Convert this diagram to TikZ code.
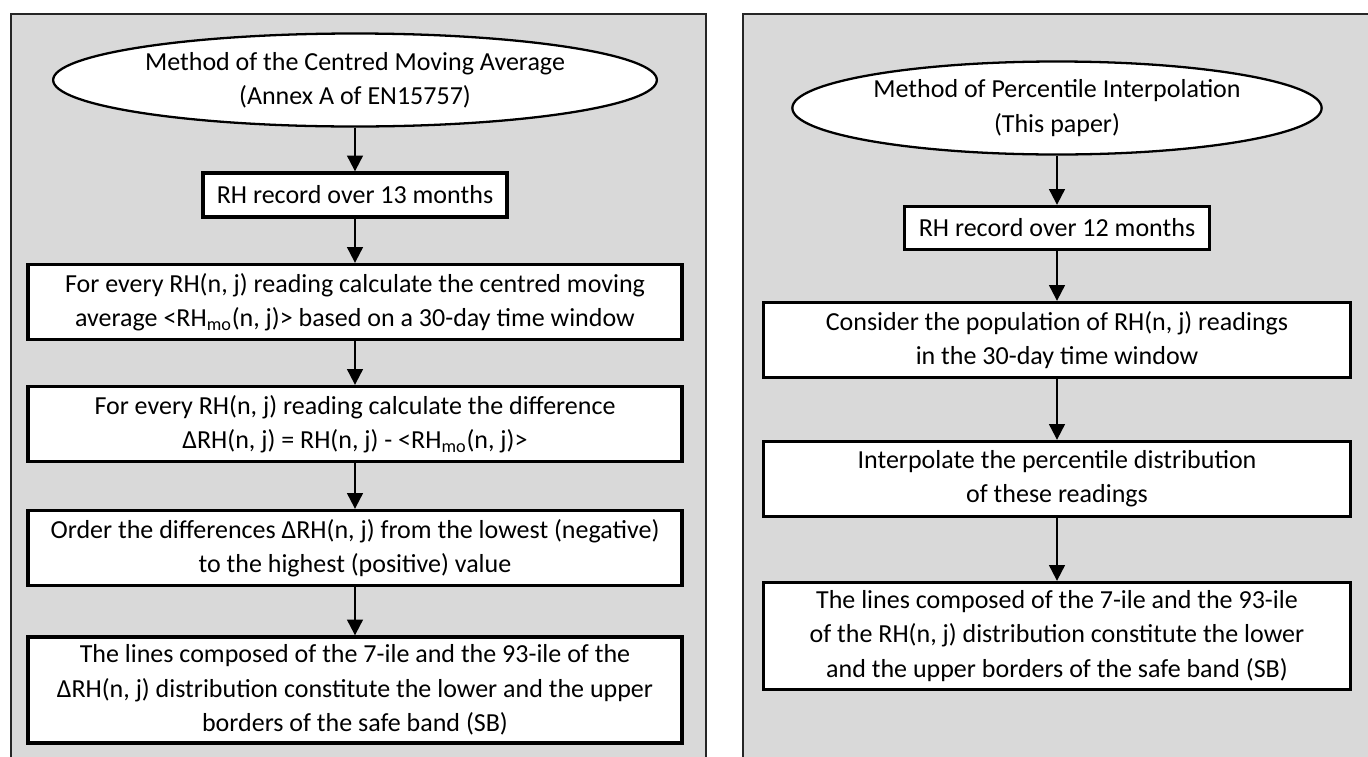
\documentclass[tikz,border=0pt]{standalone}
\usepackage{fontspec}
\setmainfont{Carlito}
\usepackage{tikz}
\usetikzlibrary{arrows.meta,positioning,shapes.geometric}
\usepackage{xcolor}
\definecolor{panelgray}{HTML}{D9D9D9}

\begin{document}
\begin{tikzpicture}[font=\fontsize{14.8}{19.5}\selectfont]
	\useasboundingbox (0,0) rectangle (27.36,-15.12);
	\begin{scope}
		\clip (0,0) rectangle (27.36,-15.12);
		\draw[fill=panelgray,draw=black!85,line width=0.8pt] (0.22,-0.28) rectangle (14.12,-16);
		\draw[fill=panelgray,draw=black!85,line width=0.8pt] (14.86,-0.28) rectangle (28,-16);
	\end{scope}

	\begin{scope}[every node/.style={rectangle,draw,line width=1.9pt,fill=white,align=center,inner sep=2pt}]
		\node[ellipse,line width=1.3pt,minimum width=11.56cm,minimum height=1.86cm] (cma) at (7.1,-1.6) {Method of the Centred Moving Average\\(Annex A of EN15757)};
		\node[minimum width=6.08cm,minimum height=0.88cm] (rec13) at (7.1,-3.9) {RH record over 13 months};
		\node[minimum width=13.08cm,minimum height=1.5cm] (movavg) at (7.1,-6.04) {For every RH(n, j) reading calculate the centred moving\\average <RH\textsubscript{mo}(n, j)> based on a 30-day time window};
		\node[minimum width=13.08cm,minimum height=1.5cm] (diff) at (7.1,-8.48) {For every RH(n, j) reading calculate the difference\\ΔRH(n, j) = RH(n, j) - <RH\textsubscript{mo}(n, j)>};
		\node[minimum width=13.08cm,minimum height=1.5cm] (order) at (7.1,-10.96) {Order the differences ΔRH(n, j) from the lowest (negative)\\to the highest (positive) value};
		\node[minimum width=13.08cm,minimum height=2.12cm] (bandL) at (7.1,-13.8) {The lines composed of the 7-ile and the 93-ile of the\\ΔRH(n, j) distribution constitute the lower and the upper\\borders of the safe band (SB)};

		\node[ellipse,line width=1.3pt,minimum width=10.3cm,minimum height=1.86cm] (pi) at (21.14,-2.16) {Method of Percentile Interpolation\\(This paper)};
		\node[minimum width=6.1cm,minimum height=0.86cm] (rec12) at (21.14,-4.56) {RH record over 12 months};
		\node[minimum width=11.74cm,minimum height=1.5cm] (popul) at (21.14,-6.8) {Consider the population of RH(n, j) readings\\in the 30-day time window};
		\node[minimum width=11.74cm,minimum height=1.5cm] (interp) at (21.14,-9.58) {Interpolate the percentile distribution\\of these readings};
		\node[minimum width=11.74cm,minimum height=2.14cm] (bandR) at (21.14,-12.72) {The lines composed of the 7-ile and the 93-ile\\of the RH(n, j) distribution constitute the lower\\and the upper borders of the safe band (SB)};
	\end{scope}

	\begin{scope}[line width=1.2pt,-{Triangle[length=9pt,width=9pt]}]
		\draw (cma) -- (rec13);
		\draw (rec13) -- (movavg);
		\draw (movavg) -- (diff);
		\draw (diff) -- (order);
		\draw (order) -- (bandL);

		\draw (pi) -- (rec12);
		\draw (rec12) -- (popul);
		\draw (popul) -- (interp);
		\draw (interp) -- (bandR);
	\end{scope}
\end{tikzpicture}
\end{document}
